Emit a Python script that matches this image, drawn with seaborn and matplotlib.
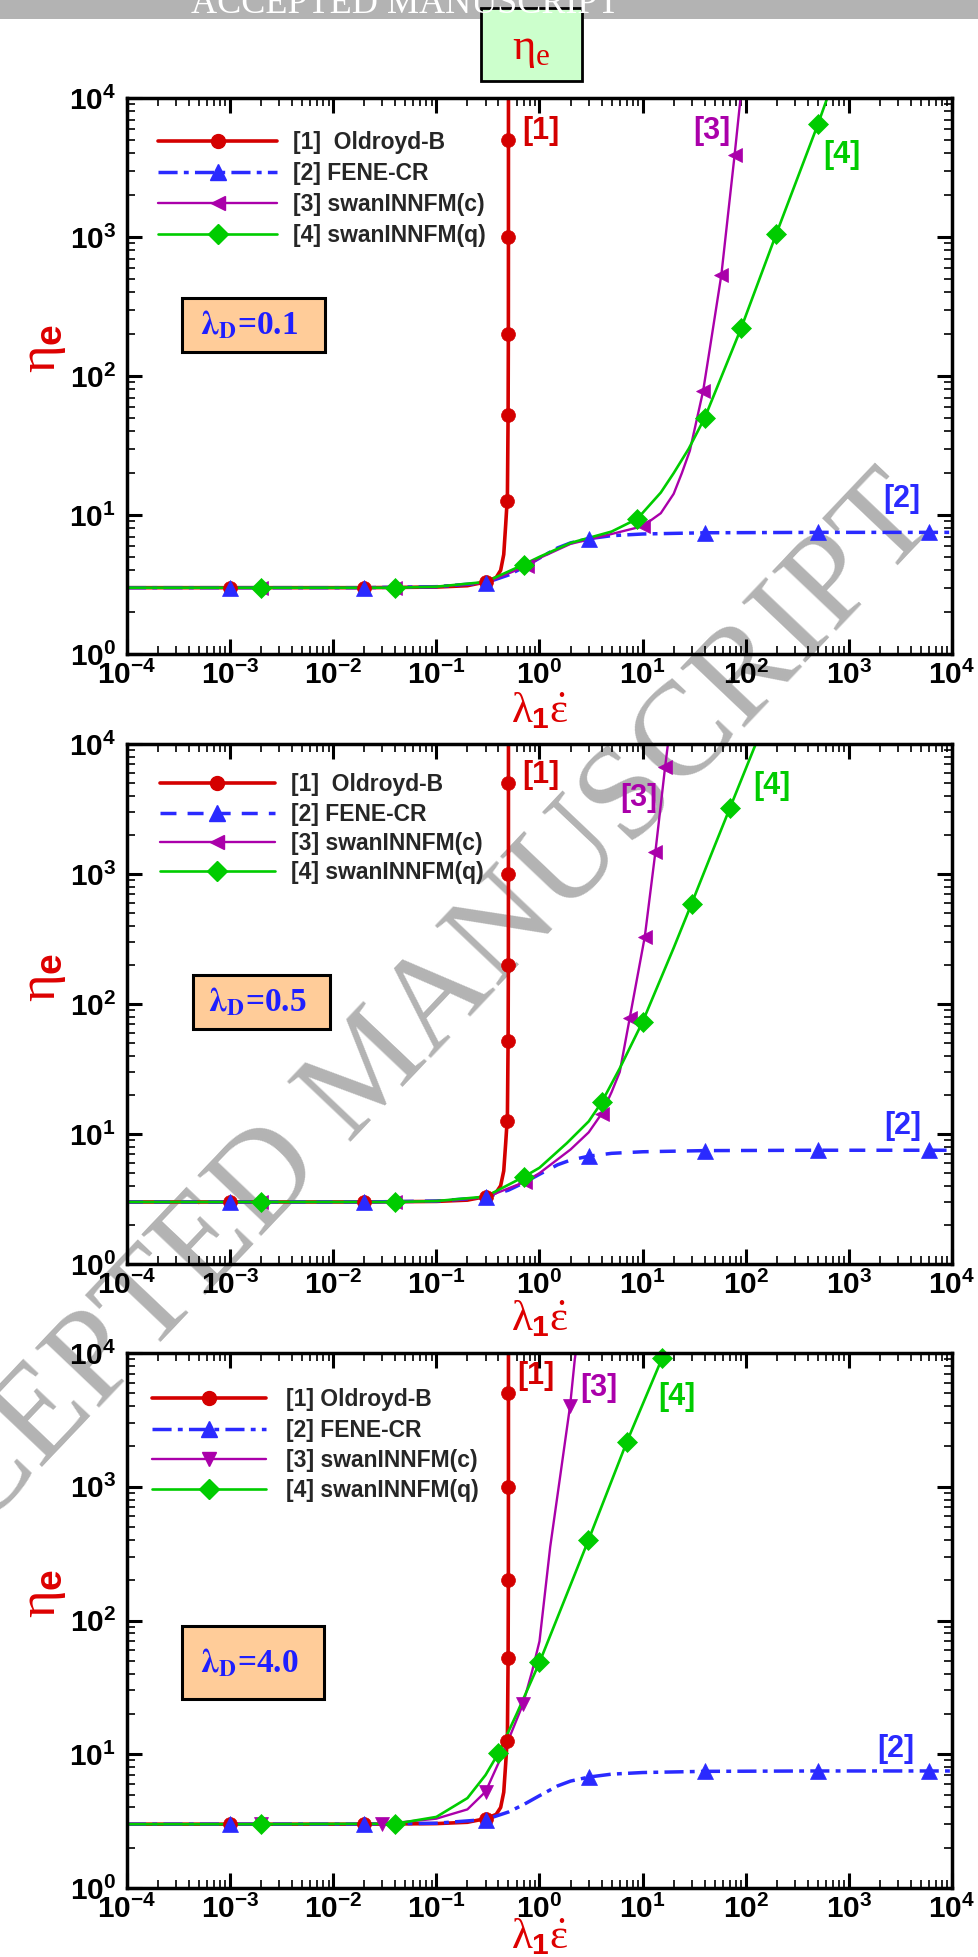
import numpy as np
import pandas as pd
import matplotlib
matplotlib.use("Agg")
import matplotlib.pyplot as plt
import seaborn as sns
from matplotlib.lines import Line2D
from matplotlib.patches import Rectangle
from matplotlib.ticker import LogLocator, FuncFormatter, NullFormatter

# ---------------------------------------------------------------- data
# Oldroyd-B: identical for every lambda_D (singular at lambda_1*eps_dot = 0.5)
ob_x = [1e-4, 1e-3, 0.02, 0.1, 0.2, 0.3, 0.38, 0.42, 0.45, 0.47, 0.48,
        0.488, 0.496, 0.499, 0.4998, 0.49996, 0.49999]
ob_y = [3.0, 3.0, 3.0, 3.03, 3.1, 3.3, 3.55, 4.0, 5.2, 8.5, 11.0,
        12.6, 52, 200, 1000, 5000, 20000]
ob_marks = [1, 2, 5, 11, 12, 13, 14, 15]

# FENE-CR: bounded plateau
fc_x = [1e-4, 1e-3, 0.02, 0.1, 0.3, 0.5, 0.7, 1.0, 1.5, 2.0, 3.0, 5.0,
        10, 40, 500, 6000, 1e4]
fc_y = [3.0, 3.0, 3.0, 3.05, 3.25, 3.7, 4.2, 4.9, 5.8, 6.3, 6.75, 7.1,
        7.3, 7.45, 7.5, 7.5, 7.5]
fc_marks = [1, 2, 4, 10, 13, 14, 15]

# swanINNFM(c), lambda_D = 0.1 / 0.5 / 4.0
c1_x = [1e-4, 2e-3, 0.04, 0.1, 0.3, 0.75, 1.0, 2.0, 5.0, 10.0, 15, 20, 24,
        28.7, 38.6, 45, 58, 78, 89, 100]
c1_y = [3.0, 3.0, 3.0, 3.05, 3.25, 4.3, 4.9, 6.2, 7.3, 8.3, 10.3, 14.2, 20,
        29, 78, 160, 534, 3900, 10000, 20000]
c1_marks = [1, 2, 5, 9, 14, 16, 17]

c2_x = [1e-4, 2e-3, 0.04, 0.1, 0.3, 0.73, 1.0, 2.0, 3.0, 4.0, 5.0, 6.0, 7.5,
        10.5, 13.3, 16.5, 17.6, 19]
c2_y = [3.0, 3.0, 3.0, 3.05, 3.25, 4.3, 5.0, 7.6, 10.3, 14.3, 21, 30, 78,
        330, 1480, 6600, 10000, 16000]
c2_marks = [1, 2, 5, 9, 12, 13, 14, 15]

c3_x = [1e-4, 2e-3, 0.03, 0.1, 0.2, 0.3, 0.45, 0.69, 0.85, 1.0, 1.27, 1.58,
        1.98, 2.2, 2.5]
c3_y = [3.0, 3.0, 3.0, 3.3, 3.87, 5.25, 10.5, 23.6, 42, 70, 355, 1170,
        4035, 9000, 18000]
c3_marks = [1, 2, 5, 7, 12]

# swanINNFM(q), lambda_D = 0.1 / 0.5 / 4.0
q1_x = [1e-4, 2e-3, 0.04, 0.1, 0.3, 0.7, 1.0, 2.0, 5.0, 8.9, 15, 20, 28, 40,
        90, 198, 500, 700]
q1_y = [3.0, 3.0, 3.0, 3.05, 3.3, 4.4, 5.0, 6.3, 7.6, 9.4, 14.5, 20, 30, 50,
        220, 1056, 6450, 13000]
q1_marks = [1, 2, 5, 9, 13, 14, 15, 16]

q2_x = [1e-4, 2e-3, 0.04, 0.1, 0.3, 0.71, 1.0, 1.84, 3.0, 4.0, 6.0, 10, 20,
        29.8, 50, 70, 125, 150]
q2_y = [3.0, 3.0, 3.0, 3.05, 3.3, 4.7, 5.5, 8.5, 12.5, 17.5, 32, 73, 270,
        590, 1650, 3200, 10000, 14400]
q2_marks = [1, 2, 5, 9, 11, 13, 15]

q3_x = [1e-4, 2e-3, 0.04, 0.1, 0.2, 0.3, 0.4, 0.6, 1.0, 2.98, 7.0, 15.5, 18]
q3_y = [3.0, 3.0, 3.02, 3.4, 4.7, 7.0, 10.2, 20, 48.6, 398, 2150, 9200, 12500]
q3_marks = [1, 2, 6, 8, 9, 10, 11]

lambda_D = ["0.1", "0.5", "4.0"]
series_names = ["[1]  Oldroyd-B", "[2] FENE-CR", "[3] swanINNFM(c)", "[4] swanINNFM(q)"]
series_names_p3 = ["[1] Oldroyd-B", "[2] FENE-CR", "[3] swanINNFM(c)", "[4] swanINNFM(q)"]
curve_tags = ["[1]", "[2]", "[3]", "[4]"]

# ---------------------------------------------------------------- style
sns.set_style("ticks")
plt.rcParams.update({
    "font.family": ["Liberation Sans", "DejaVu Sans"],
    "mathtext.fontset": "custom",
    "mathtext.rm": "Liberation Serif",
    "mathtext.it": "Liberation Serif",
    "mathtext.bf": "Liberation Sans:bold",
    "axes.facecolor": "none",
    "axes.linewidth": 2.5,
    "axes.edgecolor": "black",
})

RED, BLUE, PURPLE, GREEN = "#d40000", "#2a2aff", "#aa00aa", "#00cc00"
LABEL_RED = "#dd0000"
DASHDOT = (0, (5.5, 1.8, 1.4, 1.8))
DASHED = (0, (4.6, 3.2))

W, H = 979, 1957
fig = plt.figure(figsize=(W / 100, H / 100), dpi=100)

# header band
fig.patches.append(Rectangle((0, 1 - 19 / H), 1, 19 / H, transform=fig.transFigure,
                             facecolor="#b3b3b3", edgecolor="none", zorder=1))
fig.text(405 / W, 1 - 13 / H, "ACCEPTED MANUSCRIPT", ha="center", va="baseline",
         fontsize=26, family="Liberation Serif", color="white", zorder=2)

# title box
fig.patches.append(Rectangle((481 / W, 1 - 81 / H), 101 / W, 73 / H,
                             transform=fig.transFigure, facecolor="#ccffcc",
                             edgecolor="black", linewidth=2, zorder=2))
fig.text(531 / W, 1 - 50 / H, r"$\eta_{\mathrm{e}}$", ha="center", va="center",
         fontsize=32, color=LABEL_RED, zorder=3)

# diagonal watermark behind the curves
fig.text(372 / W, 1 - 1072 / H, "ACCEPTED MANUSCRIPT", rotation=46.5,
         rotation_mode="anchor", ha="center", va="center", fontsize=96,
         family="Liberation Serif", color="#b3b3b3", zorder=-1)

axes_px = [(127, 98, 952, 654), (127, 744, 952, 1264), (127, 1353, 952, 1888)]

panels = [
    dict(c=(c1_x, c1_y, c1_marks), q=(q1_x, q1_y, q1_marks), fene_ls=DASHDOT,
         c_marker="<", names=series_names,
         tags=[(0.68, 5800), (2140, 13), (31, 5800), (560, 3900)],
         box=(0.067, 0.543, 0.173, 0.097),
         leg=(0.0376, 0.940, 5.2, 0.7, 0.35), xl=-58),
    dict(c=(c2_x, c2_y, c2_marks), q=(q2_x, q2_y, q2_marks), fene_ls=DASHED,
         c_marker="<", names=series_names,
         tags=[(0.68, 5800), (2180, 11.5), (6.1, 3870), (117, 4760)],
         box=(0.080, 0.452, 0.166, 0.104),
         leg=(0.040, 0.944, 5.0, 0.7, 0.28), xl=-56),
    dict(c=(c3_x, c3_y, c3_marks), q=(q3_x, q3_y, q3_marks), fene_ls=DASHDOT,
         c_marker="v", names=series_names_p3,
         tags=[(0.61, 6700), (1900, 11), (2.5, 5450), (14.3, 4650)],
         box=(0.067, 0.353, 0.172, 0.137),
         leg=(0.030, 0.934, 5.0, 0.85, 0.32), xl=-50),
]


def decade_label(v, pos):
    return r"$\mathbf{10^{%d}}$" % int(round(np.log10(v)))


for i, (spec, (l, t, r, b)) in enumerate(zip(panels, axes_px)):
    ax = fig.add_axes([l / W, 1 - b / H, (r - l) / W, (b - t) / H])
    ax.set_xscale("log")
    ax.set_yscale("log")
    ax.set_xlim(1e-4, 1e4)
    ax.set_ylim(1, 1e4)

    curves = [
        (ob_x, ob_y, ob_marks, RED, "-", 2.6, "o", 10),
        (fc_x, fc_y, fc_marks, BLUE, spec["fene_ls"], 2.5, "^", 11),
        (*spec["c"], PURPLE, "-", 1.7, spec["c_marker"], 10),
        (*spec["q"], GREEN, "-", 1.9, "D", 10),
    ]
    handles = []
    for (x, y, marks, col, ls, lw, mk, ms), name in zip(curves, spec["names"]):
        df = pd.DataFrame({"x": x, "y": y})
        sns.lineplot(data=df, x="x", y="y", ax=ax, color=col, linewidth=lw,
                     linestyle=ls, estimator=None, sort=False, legend=False)
        ax.plot(df["x"].iloc[marks], df["y"].iloc[marks], linestyle="none",
                marker=mk, markersize=ms, color=col, markeredgecolor=col,
                markeredgewidth=0.5, clip_on=False, zorder=3)
        handles.append(Line2D([], [], color=col, linewidth=lw, linestyle=ls,
                              marker=mk, markersize=ms, markeredgecolor=col,
                              label=name))

    # curve tags
    for (tx, ty), tag, col in zip(spec["tags"], curve_tags, [RED, BLUE, PURPLE, GREEN]):
        ax.text(tx, ty, tag, color=col, fontsize=22, fontweight="bold",
                ha="left", va="center")

    # legend
    lx, ly, hl, htp, lsp = spec["leg"]
    ax.legend(handles=handles, loc="upper left", bbox_to_anchor=(lx, ly),
              frameon=False, borderpad=0, borderaxespad=0, handlelength=hl,
              handletextpad=htp, labelspacing=lsp, numpoints=1,
              prop=dict(family="Liberation Sans", weight="bold", size=16.5))

    # lambda_D box
    bx, by, bw, bh = spec["box"]
    ax.add_patch(Rectangle((bx, by), bw, bh, transform=ax.transAxes,
                           facecolor="#ffcc99", edgecolor="black", linewidth=2.2,
                           zorder=4))
    ax.text(bx + bw / 2 - 0.005, by + bh / 2,
            r"$\mathbf{\lambda_{D}}$" + "=" + lambda_D[i],
            transform=ax.transAxes, ha="center", va="center", fontsize=24,
            family="Liberation Serif", fontweight="bold",
            color="#1f1fff", math_fontfamily="stix", zorder=5)

    # axis labels
    hpx = b - t
    ax.set_xlabel("")
    ax.set_ylabel("")
    ax.text(0.5, spec["xl"] / hpx, r"$\lambda_{\mathbf{1}}\dot{\varepsilon}$",
            transform=ax.transAxes, ha="center", va="center", fontsize=31,
            color=LABEL_RED)
    ax.text(-0.102, 0.55, r"$\eta_{\mathbf{e}}$", transform=ax.transAxes,
            rotation=90, ha="center", va="center", fontsize=38, color=LABEL_RED)

    # ticks
    for axis in (ax.xaxis, ax.yaxis):
        axis.set_major_locator(LogLocator(base=10, numticks=20))
        axis.set_minor_locator(LogLocator(base=10, subs=np.arange(2, 10), numticks=200))
        axis.set_minor_formatter(NullFormatter())
        axis.set_major_formatter(FuncFormatter(decade_label))
    ax.tick_params(which="both", direction="in", top=True, right=True,
                   colors="black")
    ax.tick_params(which="major", length=11, width=2.2, labelsize=21.5)
    ax.tick_params(which="minor", length=5.5, width=1.2)
    ax.tick_params(axis="x", which="major", pad=5)
    ax.tick_params(axis="y", which="major", pad=8)
    for sp in ax.spines.values():
        sp.set_linewidth(2.5)
        sp.set_zorder(6)

fig.savefig("out.png", dpi=100)
